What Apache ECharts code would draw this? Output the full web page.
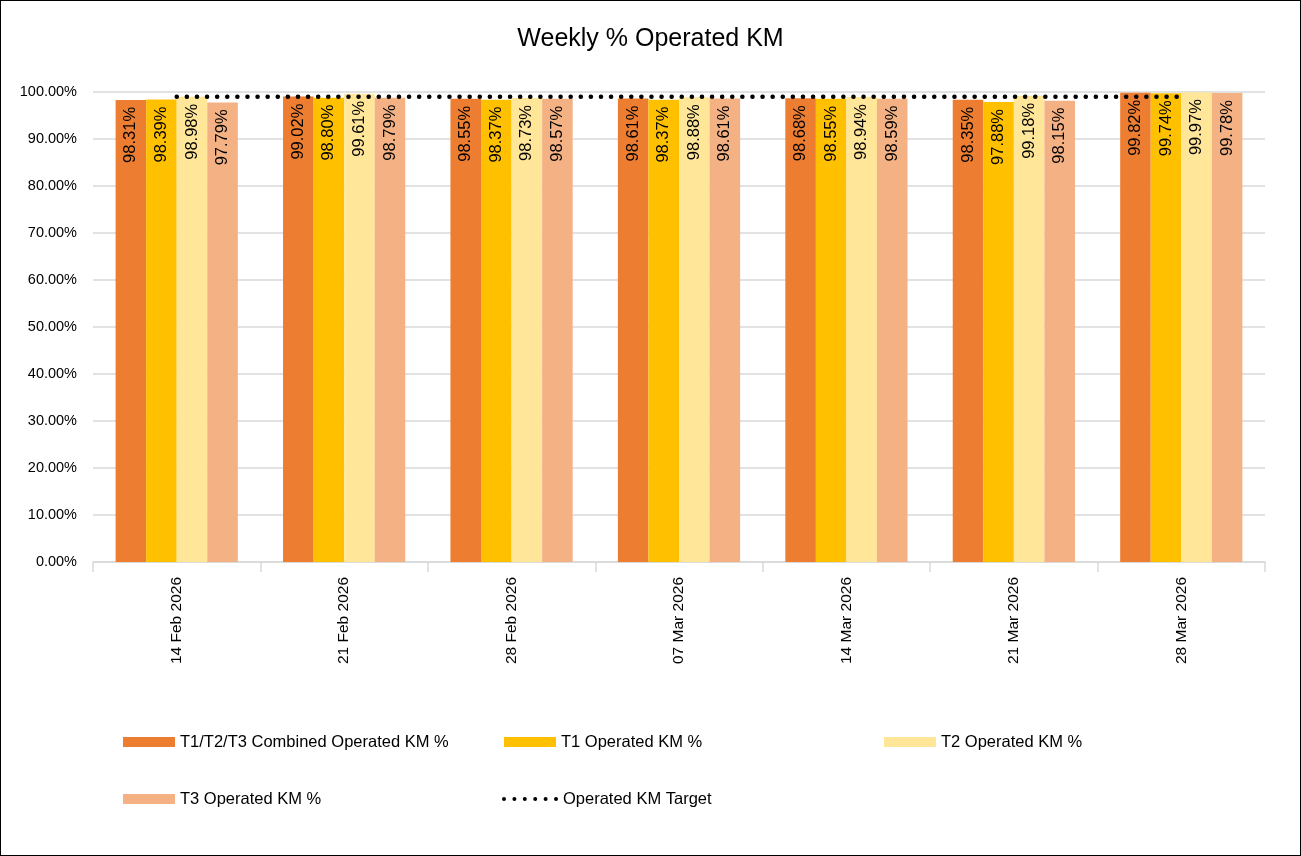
<!DOCTYPE html>
<html>
<head>
<meta charset="utf-8">
<script src="https://cdn.jsdelivr.net/npm/echarts@6/dist/echarts.min.js"></script>
<style>
html,body{margin:0;padding:0;overflow:hidden;background:#fff;}
#wrap{position:relative;width:1301px;height:856px;}
#chart{position:absolute;left:0;top:0;width:1301px;height:856px;}
#border{position:absolute;left:0;top:0;width:1301px;height:856px;box-sizing:border-box;border:1px solid #000;pointer-events:none;}
</style>
</head>
<body>
<div id="wrap"><div id="chart"></div><div id="border"></div></div>
<script>
const categories = ['14 Feb 2026','21 Feb 2026','28 Feb 2026','07 Mar 2026','14 Mar 2026','21 Mar 2026','28 Mar 2026'];
const combined = [98.31, 99.02, 98.55, 98.61, 98.68, 98.35, 99.82];
const t1 = [98.39, 98.80, 98.37, 98.37, 98.55, 97.88, 99.74];
const t2 = [98.98, 99.61, 98.73, 98.88, 98.94, 99.18, 99.97];
const t3 = [97.79, 98.79, 98.57, 98.61, 98.59, 98.15, 99.78];
const target = [99, 99, 99, 99, 99, 99, 99];
const seriesNames = ['T1/T2/T3 Combined Operated KM %','T1 Operated KM %','T2 Operated KM %','T3 Operated KM %','Operated KM Target'];
const colors = ['#ED7D31','#FFC000','#FFE699','#F4B183'];

const FONT = 'Liberation Sans';
const chart = echarts.init(document.getElementById('chart'));
function barSeries(name, data, color){
  return {
    name: name, type: 'bar', data: data, barGap: '0%', barCategoryGap: '27%',
    itemStyle: {color: color},
    label: {
      show: true, position: 'insideTop', rotate: 90, align: 'right', verticalAlign: 'middle',
      distance: 7, color: '#000', fontFamily: FONT, fontSize: 16.5,
      formatter: p => p.value.toFixed(2) + '%'
    }
  };
}
let dots = '';
for (let i = 0; i < 6; i++) { const cx = 2 + i * 10.4; dots += `M${cx-2},2a2,2 0 1,0 4,0a2,2 0 1,0 -4,0Z`; }
const legendText = {fontFamily: FONT, fontSize: 16.5, color: '#000', lineHeight: 20};
function oneLegend(name, left, top, icon, w, h){
  return {data: [{name: name, icon: icon}], left: left, top: top, padding: 0, itemWidth: w, itemHeight: h,
    itemGap: 0, textStyle: legendText, selectedMode: false};
}
chart.setOption({
  animation: false,
  backgroundColor: '#fff',
  title: {text: 'Weekly % Operated KM', left: 'center', top: 22,
    textStyle: {fontFamily: FONT, fontSize: 25, fontWeight: 'normal', color: '#000'}},
  grid: {left: 93, right: 36, top: 92, bottom: 294, containLabel: false},
  legend: [
    oneLegend(seriesNames[0], 123, 732, 'rect', 52, 10),
    oneLegend(seriesNames[1], 504, 732, 'rect', 52, 10),
    oneLegend(seriesNames[2], 884, 732, 'rect', 52, 10),
    oneLegend(seriesNames[3], 123, 789, 'rect', 52, 10),
    oneLegend(seriesNames[4], 502, 789, 'path://' + dots, 56, 4)
  ],
  xAxis: {
    type: 'category', data: categories,
    axisLine: {lineStyle: {color: '#d9d9d9', width: 1.5}},
    axisTick: {show: true, length: 10, lineStyle: {color: '#d9d9d9', width: 1.5}},
    axisLabel: {rotate: 90, margin: 15, color: '#000', fontFamily: FONT, fontSize: 15.5}
  },
  yAxis: {
    type: 'value', min: 0, max: 100, interval: 10,
    axisLine: {show: false}, axisTick: {show: false},
    splitLine: {lineStyle: {color: '#d9d9d9', width: 1.5}},
    axisLabel: {margin: 16, color: '#000', fontFamily: FONT, fontSize: 14.5,
      formatter: v => v.toFixed(2) + '%'}
  },
  series: [
    barSeries(seriesNames[0], combined, colors[0]),
    barSeries(seriesNames[1], t1, colors[1]),
    barSeries(seriesNames[2], t2, colors[2]),
    barSeries(seriesNames[3], t3, colors[3]),
    {name: seriesNames[4], type: 'line', data: target, symbol: 'none', z: 5,
     itemStyle: {color: '#000'},
     lineStyle: {color: '#000', width: 4.5, type: [0.1, 10], cap: 'round'}}
  ]
});
</script>
</body>
</html>
